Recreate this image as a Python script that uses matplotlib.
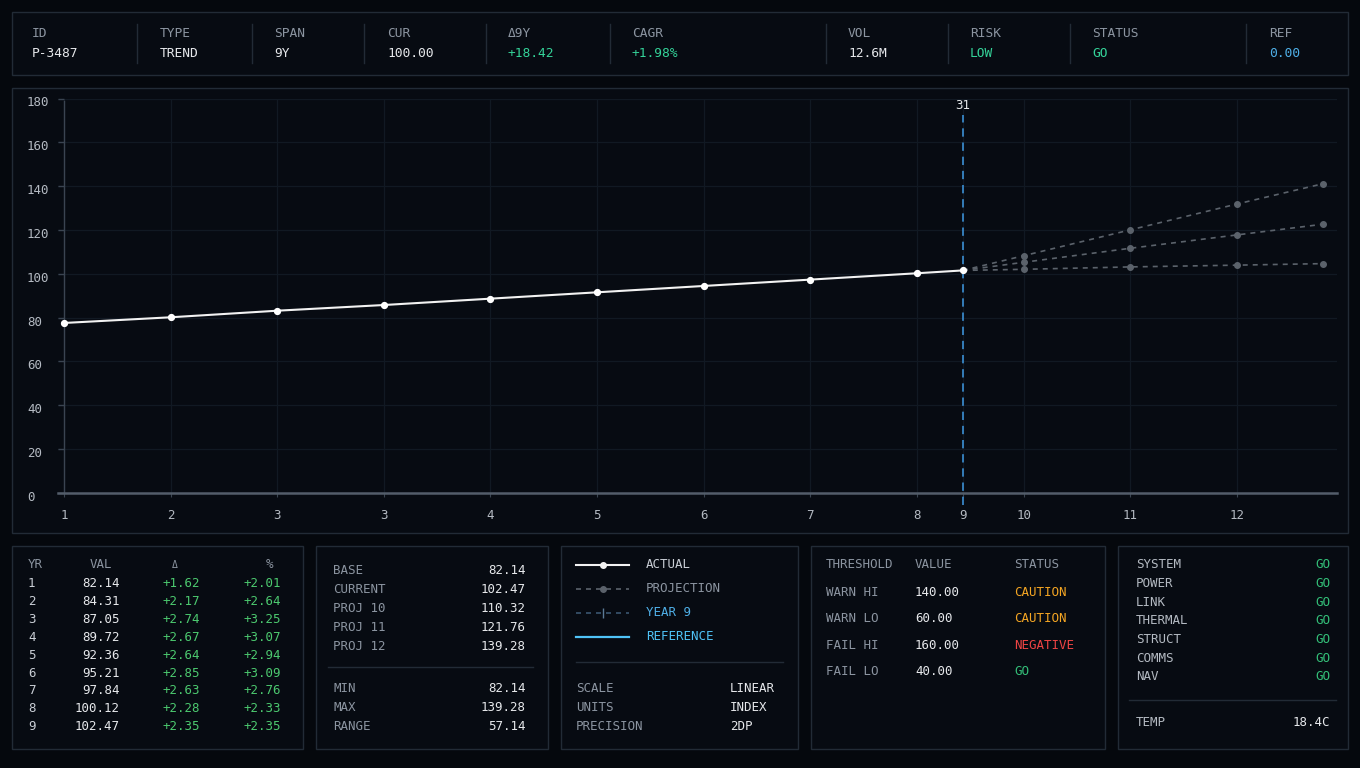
import matplotlib
matplotlib.use('Agg')
import matplotlib.pyplot as plt
import matplotlib.transforms as mtransforms
from matplotlib.patches import Rectangle
from matplotlib.lines import Line2D

W, H = 1360, 768

BG      = '#05080d'
PANEL   = '#070b12'
BORDER  = '#222b36'
GRID    = '#111923'
GREY    = '#8c95a1'
WHITE   = '#e6e8eb'
GREEN   = '#34d399'
TGREEN  = '#4cc96f'
GO      = '#34c27a'
BLUE    = '#4fb0e8'
CYAN    = '#4fc3f7'
ORANGE  = '#f5a623'
RED     = '#ef4444'
REFLINE = '#3b8fd4'
PROJ    = '#5b626b'

FONT = 'DejaVu Sans Mono'
plt.rcParams['font.family'] = [FONT, 'DejaVu Sans']

# header strip
HEADER_LABELS = ['ID', 'TYPE', 'SPAN', 'CUR', 'Δ9Y', 'CAGR', 'VOL', 'RISK', 'STATUS', 'REF']
HEADER_VALUES = ['P-3487', 'TREND', '9Y', '100.00', '+18.42', '+1.98%', '12.6M', 'LOW', 'GO', '0.00']
HEADER_COLORS = [WHITE, WHITE, WHITE, WHITE, GREEN, GREEN, WHITE, GREEN, GREEN, BLUE]

# chart series
ACTUAL_X = [1, 2, 3, 4, 5, 6, 7, 8, 9, 9.43]
ACTUAL_Y = [77.5, 80.1, 83.1, 85.7, 88.6, 91.5, 94.4, 97.3, 100.2, 101.5]
PROJ_X = [9.43, 10, 11, 12, 12.81]
PROJ_HIGH = [101.5, 108.2, 120.0, 131.8, 141.1]
PROJ_MID = [101.5, 105.2, 111.6, 117.7, 122.6]
PROJ_LOW = [101.5, 102.0, 103.1, 103.9, 104.6]
REF_X = 9.43
REF_LABEL = '31'
Y_TICKS = [0, 20, 40, 60, 80, 100, 120, 140, 160, 180]
X_TICKS = [1, 2, 3, 4, 5, 6, 7, 8, 9, 9.43, 10, 11, 12]
X_TICK_LABELS = ['1', '2', '3', '3', '4', '5', '6', '7', '8', '9', '10', '11', '12']

# table panel
YEARS = [1, 2, 3, 4, 5, 6, 7, 8, 9]
VALS = [82.14, 84.31, 87.05, 89.72, 92.36, 95.21, 97.84, 100.12, 102.47]
DELTAS = [1.62, 2.17, 2.74, 2.67, 2.64, 2.85, 2.63, 2.28, 2.35]
PCTS = [2.01, 2.64, 3.25, 3.07, 2.94, 3.09, 2.76, 2.33, 2.35]

# stats panel
STAT_LABELS = ['BASE', 'CURRENT', 'PROJ 10', 'PROJ 11', 'PROJ 12']
STAT_VALUES = [82.14, 102.47, 110.32, 121.76, 139.28]
RANGE_LABELS = ['MIN', 'MAX', 'RANGE']
RANGE_VALUES = [82.14, 139.28, 57.14]

# legend / meta panel
META_LABELS = ['SCALE', 'UNITS', 'PRECISION']
META_VALUES = ['LINEAR', 'INDEX', '2DP']

# thresholds panel
THRESH_NAMES = ['WARN HI', 'WARN LO', 'FAIL HI', 'FAIL LO']
THRESH_VALUES = [140.00, 60.00, 160.00, 40.00]
THRESH_STATUS = ['CAUTION', 'CAUTION', 'NEGATIVE', 'GO']
STATUS_COLORS = {'CAUTION': ORANGE, 'NEGATIVE': RED, 'GO': GO}

# systems panel
SYSTEMS = ['SYSTEM', 'POWER', 'LINK', 'THERMAL', 'STRUCT', 'COMMS', 'NAV']
SYSTEM_STATUS = ['GO', 'GO', 'GO', 'GO', 'GO', 'GO', 'GO']
TEMP = '18.4C'


def fx(x):
    return x / W


def fy(y):
    return 1 - y / H


def txt(x, y, s, color=GREY, ha='left', size=9, **kw):
    fig.text(fx(x), fy(y), s, color=color, ha=ha, va='center',
             fontsize=size, family=[FONT, 'DejaVu Sans'], **kw)


def panel(x0, y0, x1, y1):
    fig.add_artist(Rectangle((fx(x0), fy(y1)), fx(x1 - x0), (y1 - y0) / H,
                             transform=fig.transFigure, facecolor=PANEL,
                             edgecolor=BORDER, lw=1, zorder=0))


def hline(x0, x1, y, color=BORDER):
    fig.add_artist(Line2D([fx(x0), fx(x1)], [fy(y), fy(y)],
                          transform=fig.transFigure, color=color, lw=1))


fig = plt.figure(figsize=(W / 100, H / 100), dpi=100, facecolor=BG)

# ---- header strip
panel(12, 12, 1348, 75)
head_x = [32, 160, 274, 387, 508, 632, 848, 970, 1092, 1269]
dividers = [137, 252, 364, 486, 610, 826, 948, 1070, 1246]
for lab, val, col, x in zip(HEADER_LABELS, HEADER_VALUES, HEADER_COLORS, head_x):
    txt(x, 33.5, lab, GREY, size=9.3)
    txt(x, 53.5, val, col, size=9.3)
for x in dividers:
    fig.add_artist(Line2D([fx(x), fx(x)], [fy(24), fy(63)],
                          transform=fig.transFigure, color=BORDER, lw=1))

# ---- chart
panel(12, 88, 1348, 533)
ax = fig.add_axes([57.6 / W, (H - 492.7) / H, 1279.4 / W, 394.2 / H])
ax.set_facecolor('none')
ax.set_xlim(0.94, 12.94)
ax.set_ylim(0, 180)

for proj in (PROJ_HIGH, PROJ_MID, PROJ_LOW):
    ax.plot(PROJ_X, proj, color=PROJ, lw=1.2, ls=(0, (3, 3)), marker='o', ms=4,
            markevery=[1, 2, 3, 4], zorder=3)
ax.plot(ACTUAL_X, ACTUAL_Y, color='#f2f2f2', lw=1.5, marker='o', ms=4.2,
        markerfacecolor='#ffffff', markeredgecolor='#ffffff', zorder=5)

ax.axvline(REF_X, ymin=-0.031, ymax=0.958, color=REFLINE, lw=1.2,
           ls=(0, (5, 3.5)), clip_on=False, zorder=4)
ax.text(REF_X, 0.983, REF_LABEL,
        transform=mtransforms.blended_transform_factory(ax.transData, ax.transAxes),
        color=WHITE, ha='center', va='center', fontsize=9)

ax.set_yticks(Y_TICKS)
ax.set_xticks(X_TICKS)
ax.set_xticklabels(X_TICK_LABELS)
ax.set_yticklabels([])
ax.grid(True, color=GRID, lw=0.9)
ax.set_axisbelow(True)
for s in ['top', 'right']:
    ax.spines[s].set_visible(False)
ax.spines['left'].set_position(('data', 1))
ax.spines['left'].set_color('#3a4451')
ax.spines['left'].set_linewidth(1)
ax.spines['left'].set_bounds(0, 179)
ax.spines['bottom'].set_color('#535d6a')
ax.spines['bottom'].set_linewidth(1.8)
ax.tick_params(axis='x', colors='#3a4451', labelcolor='#b4bac2', length=3,
               pad=8.5, labelsize=9)
ax.tick_params(axis='y', colors='#3a4451', length=4.5, width=1)

# y labels sit left-aligned at the panel edge, a little under their grid line
ytrans = mtransforms.blended_transform_factory(fig.transFigure, ax.transData) + \
    mtransforms.ScaledTranslation(0, -3 / 100, fig.dpi_scale_trans)
for v in Y_TICKS:
    ax.text(fx(27), v, str(v), transform=ytrans, color='#b4bac2', ha='left',
            va='center_baseline', fontsize=9)

# ---- table panel
panel(12, 546, 303, 749)
txt(28, 565, 'YR', GREY)
txt(101, 565, 'VAL', GREY, ha='center')
txt(175, 565, 'Δ', GREY, ha='center', size=7)
txt(270, 565, '%', GREY, ha='center')
for i, (yr, v, d, p) in enumerate(zip(YEARS, VALS, DELTAS, PCTS)):
    y = 583.7 + i * 17.87
    txt(28, y, str(yr), '#c9ced5')
    txt(120, y, f'{v:.2f}', WHITE, ha='right')
    txt(200, y, f'{d:+.2f}', TGREEN, ha='right')
    txt(281, y, f'{p:+.2f}', TGREEN, ha='right')

# ---- stats panel
panel(316, 546, 548, 749)
for i, (lab, v) in enumerate(zip(STAT_LABELS, STAT_VALUES)):
    y = 570.7 + i * 18.85
    txt(333, y, lab, GREY)
    txt(526, y, f'{v:.2f}', WHITE, ha='right')
hline(328, 533, 667)
for i, (lab, v) in enumerate(zip(RANGE_LABELS, RANGE_VALUES)):
    y = 688 + i * 19.3
    txt(333, y, lab, GREY)
    txt(526, y, f'{v:.2f}', WHITE, ha='right')

# ---- legend panel
panel(561, 546, 798, 749)
leg_rows = [
    ('ACTUAL', '#c9ced5', dict(color='#f2f2f2', lw=1.5, marker='o', ms=4, markevery=[1])),
    ('PROJECTION', GREY, dict(color=PROJ, lw=1.2, ls=(0, (3, 3)), marker='o', ms=4, markevery=[1])),
    ('YEAR 9', BLUE, dict(color='#3a5670', lw=1.2, ls=(0, (3, 3)), marker='|', ms=7,
                          markeredgecolor='#5a7a96', markevery=[1])),
    ('REFERENCE', CYAN, dict(color=CYAN, lw=1.6)),
]
for i, (lab, col, style) in enumerate(leg_rows):
    y = 565 + i * 23.9
    fig.add_artist(Line2D([fx(576), fx(602.5), fx(629)], [fy(y)] * 3,
                          transform=fig.transFigure, **style))
    txt(646, y, lab, col)
hline(576, 783, 662)
for i, (lab, v) in enumerate(zip(META_LABELS, META_VALUES)):
    y = 688 + i * 19.3
    txt(576, y, lab, GREY)
    txt(730, y, v, WHITE)

# ---- thresholds panel
panel(811, 546, 1105, 749)
txt(826, 565, 'THRESHOLD', GREY)
txt(915, 565, 'VALUE', GREY)
txt(1014, 565, 'STATUS', GREY)
for i, (name, v, st) in enumerate(zip(THRESH_NAMES, THRESH_VALUES, THRESH_STATUS)):
    y = 592 + i * 26.6
    txt(826, y, name, GREY)
    txt(915, y, f'{v:.2f}', WHITE)
    txt(1014, y, st, STATUS_COLORS[st])

# ---- systems panel
panel(1118, 546, 1348, 749)
for i, (name, st) in enumerate(zip(SYSTEMS, SYSTEM_STATUS)):
    y = 565 + i * 18.6
    txt(1136, y, name, '#b4bac2')
    txt(1330, y, st, GO, ha='right')
hline(1129, 1336, 700)
txt(1136, 722, 'TEMP', '#b4bac2')
txt(1330, 722, TEMP, WHITE, ha='right')

fig.savefig('out.png', dpi=100, facecolor=BG)
